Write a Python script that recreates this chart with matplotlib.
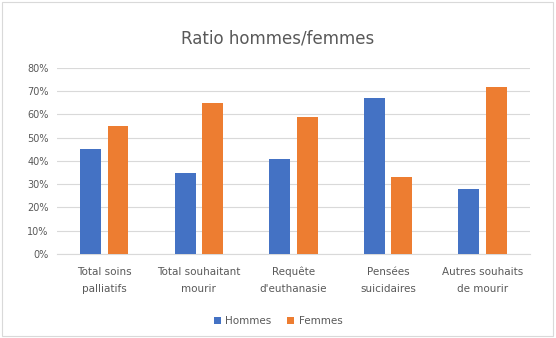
import matplotlib
matplotlib.use("Agg")
import matplotlib.pyplot as plt
import numpy as np
from matplotlib.patches import Rectangle

categories = ["Total soins\npalliatifs", "Total souhaitant\nmourir", "Requête\nd'euthanasie",
              "Pensées\nsuicidaires", "Autres souhaits\nde mourir"]
hommes = [0.45, 0.35, 0.41, 0.67, 0.28]
femmes = [0.55, 0.65, 0.59, 0.33, 0.72]
yticks = [0, 0.1, 0.2, 0.3, 0.4, 0.5, 0.6, 0.7, 0.8]
ytick_labels = ["0%", "10%", "20%", "30%", "40%", "50%", "60%", "70%", "80%"]

fig = plt.figure(figsize=(5.56, 3.38), dpi=100)
fig.patch.set_facecolor("white")
fig.patches.append(Rectangle((0.004, 0.006), 0.99, 0.988, transform=fig.transFigure,
                             fill=False, edgecolor="#D9D9D9", linewidth=0.8))
ax = fig.add_axes([0.1025, 0.2485, 0.8505, 0.5505])

x = np.arange(len(categories))
w = 0.22
gap = 0.07
ax.bar(x - w/2 - gap/2, hommes, w, color="#4472C4", label="Hommes", zorder=3)
ax.bar(x + w/2 + gap/2, femmes, w, color="#ED7D31", label="Femmes", zorder=3)

ax.set_ylim(0, 0.8)
ax.set_xlim(-0.5, len(categories) - 0.5)
ax.set_yticks(yticks)
ax.set_yticklabels(ytick_labels, fontsize=7, color="#595959")
ax.set_xticks(x)
ax.set_xticklabels(categories, fontsize=7.5, color="#595959", linespacing=1.9)
ax.tick_params(axis="y", length=0, pad=6)
ax.tick_params(axis="x", length=0, pad=9)
ax.yaxis.grid(True, color="#D9D9D9", linewidth=0.8, zorder=0)
for s in ["top", "right", "left"]:
    ax.spines[s].set_visible(False)
ax.spines["bottom"].set_color("#D9D9D9")

fig.text(0.5, 0.885, "Ratio hommes/femmes", ha="center", va="center", fontsize=12, color="#595959")
fig.legend(loc="center", bbox_to_anchor=(0.5, 0.05), ncol=2, frameon=False, fontsize=7.5,
           handlelength=0.7, handleheight=0.7, columnspacing=1.5, handletextpad=0.4,
           labelcolor="#595959")

fig.savefig("out.png", dpi=100)
